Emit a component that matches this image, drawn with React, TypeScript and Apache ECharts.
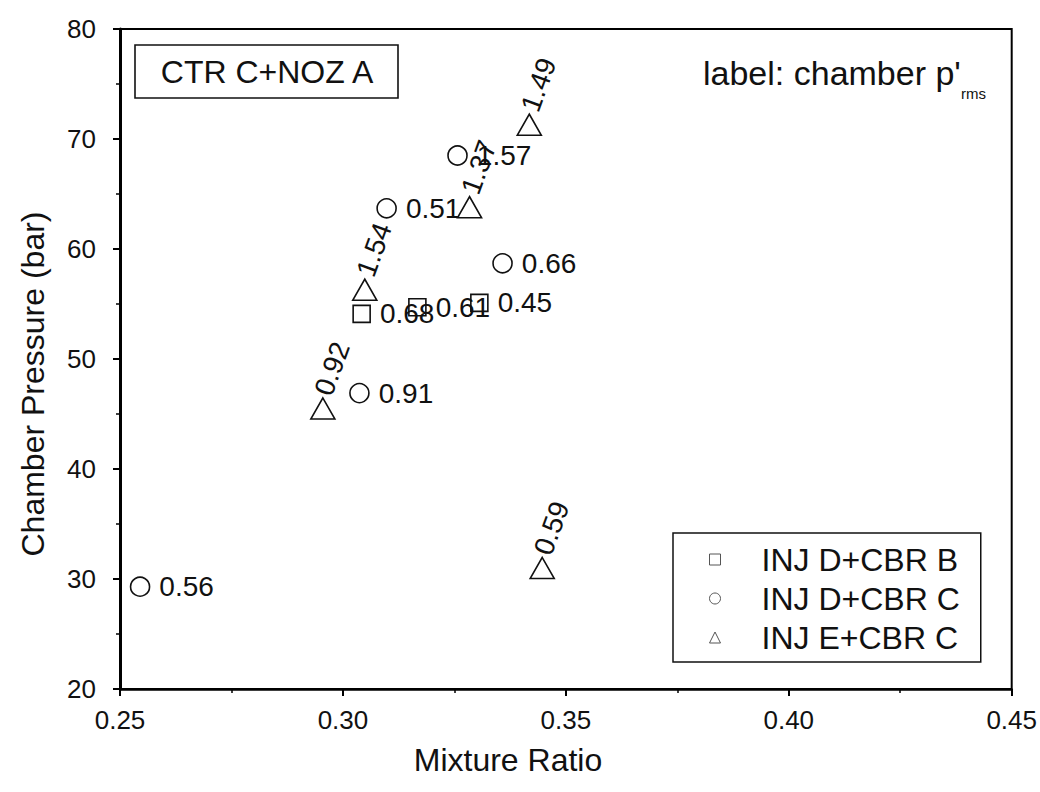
import React, { useEffect, useRef } from "react";
import * as echarts from "echarts";

const seriesNames = ["INJ D+CBR B", "INJ D+CBR C", "INJ E+CBR C"];

const injDCbrBX = [0.3042, 0.3167, 0.3306];
const injDCbrBY = [54.1, 54.7, 55.1];
const injDCbrBLabels = ["0.68", "0.61", "0.45"];

const injDCbrCX = [0.2545, 0.3037, 0.3098, 0.3257, 0.3358];
const injDCbrCY = [29.3, 46.9, 63.7, 68.5, 58.7];
const injDCbrCLabels = ["0.56", "0.91", "0.51", "1.57", "0.66"];

const injECbrCX = [0.2955, 0.3049, 0.3284, 0.3418, 0.3447];
const injECbrCY = [45.5, 56.3, 63.8, 71.3, 31.0];
const injECbrCLabels = ["0.92", "1.54", "1.37", "1.49", "0.59"];

const xMin = 0.25;
const xMax = 0.45;
const xStep = 0.05;
const yMin = 20;
const yMax = 80;
const yStep = 10;

const xAxisTitle = "Mixture Ratio";
const yAxisTitle = "Chamber Pressure (bar)";
const boxTitle = "CTR C+NOZ A";
const noteText = "label: chamber p'";
const noteSub = "rms";

const FONT = "'Liberation Sans', Arial, Helvetica, sans-serif";

function zip(xs: number[], ys: number[], labels: string[]) {
  return xs.map((x, i) => [x, ys[i], labels[i]]);
}

export default function App() {
  const ref = useRef<HTMLDivElement>(null);

  useEffect(() => {
    if (!ref.current) return;
    const chart = echarts.init(ref.current, null, { renderer: "svg" });

    const markerStyle = {
      color: "#fff",
      borderColor: "#111",
      borderWidth: 1.6,
      opacity: 1,
    };

    const plainLabel = {
      show: true,
      position: "right",
      distance: 9,
      fontFamily: FONT,
      fontSize: 28,
      color: "#111",
      formatter: (p: any) => p.value[2],
    };

    const rotatedLabel = {
      show: true,
      position: "top",
      distance: 3,
      rotate: 70,
      align: "left",
      verticalAlign: "middle",
      fontFamily: FONT,
      fontSize: 28,
      color: "#111",
      formatter: (p: any) => p.value[2],
    };

    chart.setOption({
      animation: false,
      backgroundColor: "#fff",
      grid: {
        left: 120,
        right: 27,
        top: 29,
        bottom: 103,
        show: true,
        borderColor: "#000",
        borderWidth: 2,
        backgroundColor: "transparent",
      },
      xAxis: {
        type: "value",
        min: xMin,
        max: xMax,
        interval: xStep,
        axisLine: { show: true, onZero: false, lineStyle: { color: "#000", width: 2.5 } },
        axisTick: { show: true, inside: false, length: 7, lineStyle: { color: "#000", width: 2 } },
        minorTick: { show: true, splitNumber: 2, length: 4, lineStyle: { color: "#000", width: 1.5 } },
        splitLine: { show: false },
        axisLabel: {
          margin: 18,
          fontFamily: FONT,
          fontSize: 26,
          color: "#111",
          formatter: (v: number) => v.toFixed(2),
        },
      },
      yAxis: {
        type: "value",
        min: yMin,
        max: yMax,
        interval: yStep,
        axisLine: { show: true, onZero: false, lineStyle: { color: "#000", width: 3 } },
        axisTick: { show: true, inside: false, length: 7, lineStyle: { color: "#000", width: 2 } },
        minorTick: { show: true, splitNumber: 2, length: 4, lineStyle: { color: "#000", width: 1.5 } },
        splitLine: { show: false },
        axisLabel: {
          margin: 24,
          fontFamily: FONT,
          fontSize: 26,
          color: "#111",
        },
      },
      legend: {
        show: true,
        orient: "vertical",
        left: 673,
        top: 533,
        padding: [7, 21, 5, 36],
        itemGap: 0,
        itemWidth: 11,
        itemHeight: 11,
        borderColor: "#111",
        borderWidth: 1.5,
        backgroundColor: "#fff",
        itemStyle: { color: "#fff", borderColor: "#555", borderWidth: 1 },
        textStyle: {
          fontFamily: FONT,
          fontSize: 32,
          color: "#111",
          lineHeight: 39,
          padding: [0, 0, 0, 36],
        },
        data: seriesNames,
      },
      series: [
        {
          name: seriesNames[0],
          type: "scatter",
          symbol: "rect",
          symbolSize: 17,
          itemStyle: markerStyle,
          label: plainLabel,
          data: zip(injDCbrBX, injDCbrBY, injDCbrBLabels),
          z: 3,
        },
        {
          name: seriesNames[1],
          type: "scatter",
          symbol: "circle",
          symbolSize: 19,
          itemStyle: markerStyle,
          label: plainLabel,
          data: zip(injDCbrCX, injDCbrCY, injDCbrCLabels),
          z: 3,
        },
        {
          name: seriesNames[2],
          type: "scatter",
          symbol: "triangle",
          symbolSize: [24, 21],
          itemStyle: markerStyle,
          label: rotatedLabel,
          data: zip(injECbrCX, injECbrCY, injECbrCLabels),
          z: 3,
        },
      ],
      graphic: [
        {
          type: "rect",
          shape: { x: 135, y: 45, width: 263, height: 53 },
          style: { fill: "#fff", stroke: "#111", lineWidth: 1.6 },
          z: 10,
        },
        {
          type: "text",
          x: 267,
          y: 72,
          style: {
            text: boxTitle,
            fontFamily: FONT,
            fontSize: 32,
            fill: "#111",
            align: "center",
            verticalAlign: "middle",
          },
          z: 11,
        },
        {
          type: "text",
          x: 703,
          y: 73,
          style: {
            text: noteText,
            fontFamily: FONT,
            fontSize: 34,
            fill: "#111",
            align: "left",
            verticalAlign: "middle",
          },
          z: 11,
        },
        {
          type: "text",
          x: 961,
          y: 93,
          style: {
            text: noteSub,
            fontFamily: FONT,
            fontSize: 15,
            fill: "#111",
            align: "left",
            verticalAlign: "middle",
          },
          z: 11,
        },
        {
          type: "text",
          x: 508,
          y: 760,
          style: {
            text: xAxisTitle,
            fontFamily: FONT,
            fontSize: 32,
            fill: "#111",
            align: "center",
            verticalAlign: "middle",
          },
          z: 11,
        },
        {
          type: "text",
          x: 33,
          y: 384,
          rotation: Math.PI / 2,
          style: {
            text: yAxisTitle,
            fontFamily: FONT,
            fontSize: 32,
            fill: "#111",
            align: "center",
            verticalAlign: "middle",
          },
          z: 11,
        },
      ],
    });

    return () => chart.dispose();
  }, []);

  return (
    <div
      ref={ref}
      style={{ position: "fixed", left: 0, top: 0, width: 1040, height: 792, background: "#fff" }}
    />
  );
}
